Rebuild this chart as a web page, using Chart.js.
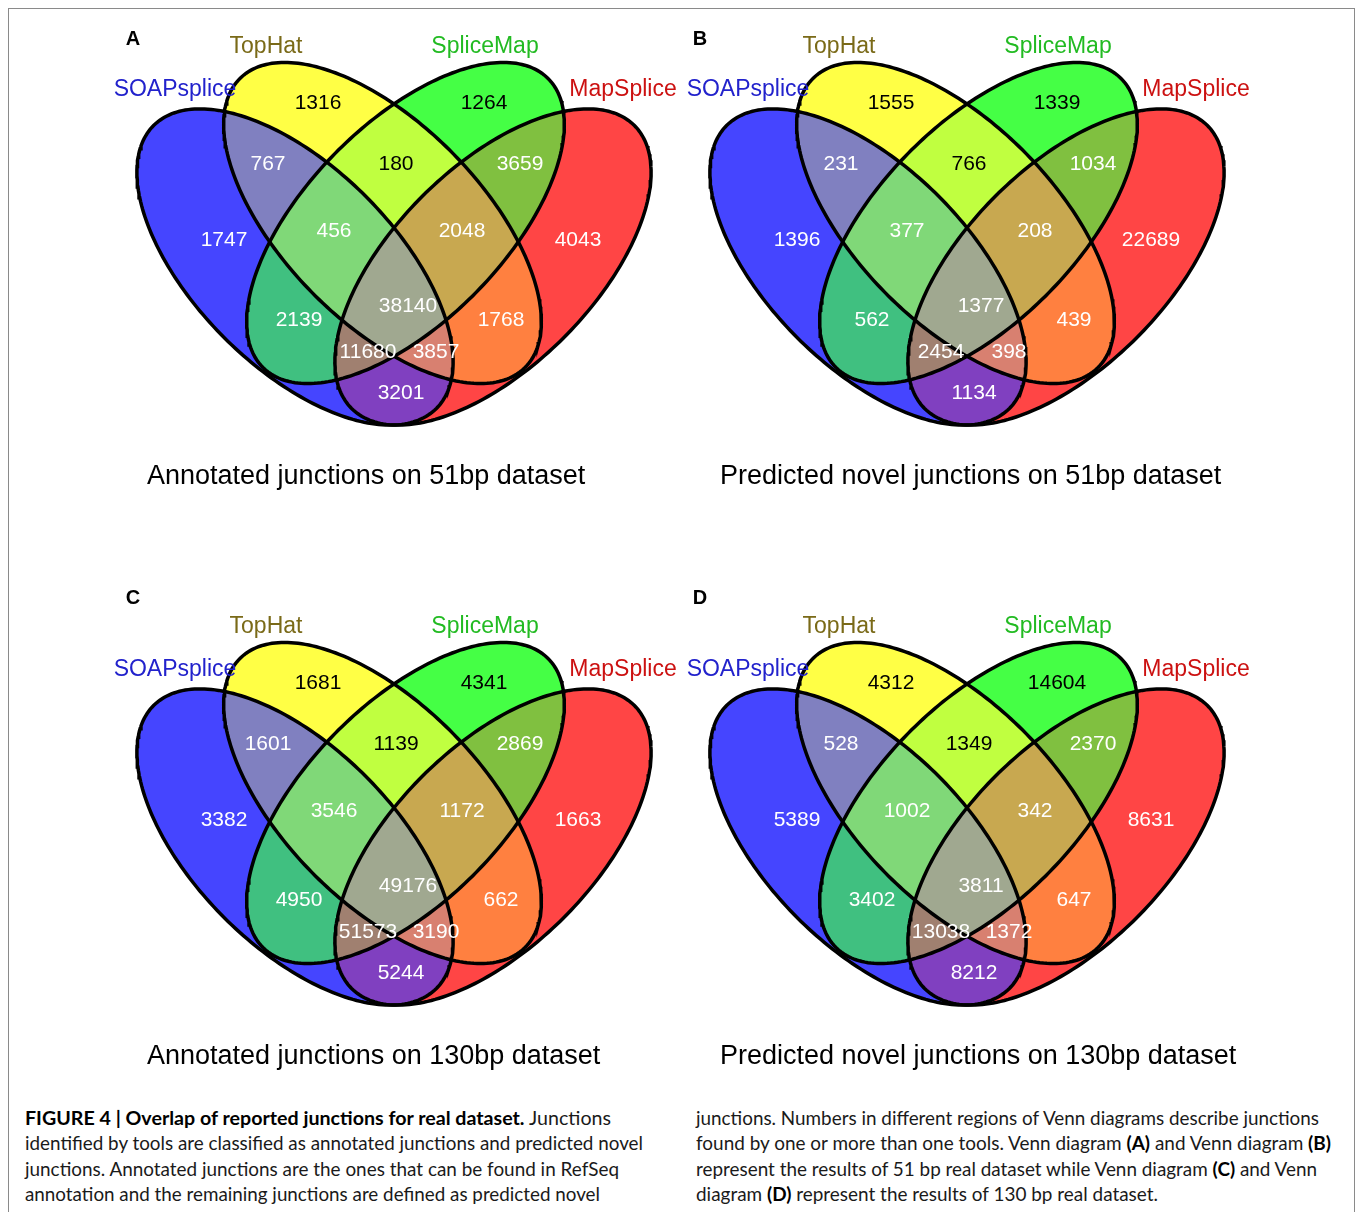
<!DOCTYPE html>
<html>
<head>
<meta charset="utf-8">
<script src="https://cdn.jsdelivr.net/npm/chart.js@4.4.0/dist/chart.umd.min.js"></script>
<style>
  body { margin: 0; background: #fff; font-family: "Liberation Sans", Arial, Helvetica, sans-serif; }
  #page { position: relative; width: 1358px; height: 1212px; overflow: hidden; }
  #frame { position: absolute; left: 8px; top: 8px; width: 1345px; height: 1240px; border: 1px solid #8a8a8a; }
  .panel { position: absolute; width: 580px; height: 520px; }
  .panel canvas { position: absolute; left: 0; top: 0; }
  .letter { position: absolute; font-weight: bold; font-size: 20px; transform: translate(-50%, -50%); }
  .setname { position: absolute; font-size: 23px; transform: translate(-50%, -50%); white-space: nowrap; }
  .title { position: absolute; font-size: 27px; transform: translateY(-50%); white-space: nowrap; color: #000; }
  .capline { position: absolute; white-space: nowrap; font-family: Lato, "Liberation Sans", Arial, sans-serif;
             font-weight: 400; font-size: 19px; color: #1a1a1a; transform-origin: 0 50%; line-height: 25px; }
  .capline b { font-weight: 700; color: #000; }
</style>
</head>
<body>
<div id="page">
  <div id="frame"></div>
</div>
<script>
// set names and panels
const setNames = ["SOAPsplice", "TopHat", "SpliceMap", "MapSplice"];
const setLabelColors = ["#2222cc", "#7a6a18", "#22bb22", "#cc1111"];
const panelLetters = ["A", "B", "C", "D"];
const panelTitles = [
  "Annotated junctions on 51bp dataset",
  "Predicted novel junctions on 51bp dataset",
  "Annotated junctions on 130bp dataset",
  "Predicted novel junctions on 130bp dataset"
];

// regions: which sets each one lies in (SOAPsplice, TopHat, SpliceMap, MapSplice)
const regionSets = [
  [1,0,0,0], [0,1,0,0], [0,0,1,0], [0,0,0,1],
  [1,1,0,0], [0,1,1,0], [0,0,1,1], [1,0,1,0], [0,1,0,1], [1,0,0,1],
  [1,1,1,0], [0,1,1,1], [1,0,1,1], [1,1,0,1],
  [1,1,1,1]
];

// junction counts, same region order as regionSets
const annotated51 = [1747, 1316, 1264, 4043, 767, 180, 3659, 2139, 1768, 3201, 456, 2048, 11680, 3857, 38140];
const novel51     = [1396, 1555, 1339, 22689, 231, 766, 1034, 562, 439, 1134, 377, 208, 2454, 398, 1377];
const annotated130 = [3382, 1681, 4341, 1663, 1601, 1139, 2869, 4950, 662, 5244, 3546, 1172, 51573, 3190, 49176];
const novel130     = [5389, 4312, 14604, 8631, 528, 1349, 2370, 3402, 647, 8212, 1002, 342, 13038, 1372, 3811];
const panelCounts = [annotated51, novel51, annotated130, novel130];

// look of the diagram
const regionColors = [
  "#4545ff", "#ffff45", "#45ff45", "#ff4545",
  "#8080c0", "#c0ff40", "#80c040", "#40c080", "#ff8040", "#8040c0",
  "#80d878", "#c8a850", "#a08070", "#d88070",
  "#a0a890"
];
const regionTextColors = [
  "#fff", "#000", "#000", "#fff",
  "#fff", "#000", "#fff", "#fff", "#fff", "#fff",
  "#fff", "#fff", "#fff", "#fff", "#fff"
];
const labelPos = [
  [130, 240], [224, 103], [390, 103], [484, 240],
  [174, 164], [302, 164], [426, 164], [205, 320], [407, 320], [307, 393],
  [240, 231], [368, 231], [274, 352], [342, 352],
  [314, 306]
];
const ellipses = [
  { cx: 201, cy: 267, a: 200, b: 100, rot: 45 },
  { cx: 288.5, cy: 223, a: 203, b: 99, rot: 45.5 },
  { cx: 311.5, cy: 223, a: 203, b: 99, rot: 134.5 },
  { cx: 399, cy: 267, a: 200, b: 100, rot: 135 }
];
const panelOrigins = [[94, 0], [667, 0], [94, 580], [667, 580]];
const letterPos = [[39, 38], [33, 38], [39, 17], [33, 17]];
const setLabelPos = [[81, 88], [172, 45], [391, 45], [529, 88]];

function ellipsePoints(e) {
  const pts = [];
  const r = e.rot * Math.PI / 180, c = Math.cos(r), s = Math.sin(r);
  for (let k = 0; k <= 240; k++) {
    const t = 2 * Math.PI * k / 240;
    pts.push({
      x: e.cx + e.a * Math.cos(t) * c - e.b * Math.sin(t) * s,
      y: e.cy + e.a * Math.cos(t) * s + e.b * Math.sin(t) * c
    });
  }
  return pts;
}

function pixelPath(chart, pts) {
  const xs = chart.scales.x, ys = chart.scales.y;
  const p = new Path2D();
  pts.forEach((pt, i) => {
    const px = xs.getPixelForValue(pt.x), py = ys.getPixelForValue(pt.y);
    if (i === 0) p.moveTo(px, py); else p.lineTo(px, py);
  });
  p.closePath();
  return p;
}

// fill each Venn region, then write its count on top
const vennPlugin = {
  id: "venn",
  beforeDatasetsDraw(chart) {
    const ctx = chart.ctx;
    const w = chart.width, h = chart.height;
    const paths = ellipses.map((e) => pixelPath(chart, ellipsePoints(e)));
    regionSets.forEach((sets, r) => {
      ctx.save();
      sets.forEach((inside, i) => {
        if (inside) {
          ctx.clip(paths[i]);
        } else {
          const outside = new Path2D();
          outside.rect(-10, -10, w + 20, h + 20);
          outside.addPath(paths[i]);
          ctx.clip(outside, "evenodd");
        }
      });
      ctx.fillStyle = regionColors[r];
      ctx.fillRect(0, 0, w, h);
      ctx.restore();
    });
  },
  afterDatasetsDraw(chart) {
    const ctx = chart.ctx;
    const counts = chart.options.plugins.venn.counts;
    ctx.save();
    ctx.font = '21px "Liberation Sans", Arial, sans-serif';
    ctx.textAlign = "center";
    ctx.textBaseline = "middle";
    counts.forEach((v, r) => {
      ctx.fillStyle = regionTextColors[r];
      ctx.fillText(String(v), chart.scales.x.getPixelForValue(labelPos[r][0]),
                   chart.scales.y.getPixelForValue(labelPos[r][1]));
    });
    ctx.restore();
  }
};

const page = document.getElementById("page");

panelCounts.forEach((counts, p) => {
  const panel = document.createElement("div");
  panel.className = "panel";
  panel.style.left = panelOrigins[p][0] + "px";
  panel.style.top = panelOrigins[p][1] + "px";
  const canvas = document.createElement("canvas");
  canvas.width = 580;
  canvas.height = 520;
  panel.appendChild(canvas);
  page.appendChild(panel);

  new Chart(canvas, {
    type: "scatter",
    data: {
      datasets: ellipses.map((e, i) => ({
        label: setNames[i],
        data: ellipsePoints(e),
        showLine: true,
        borderColor: "#000",
        borderWidth: 3.5,
        pointRadius: 0,
        fill: false
      }))
    },
    options: {
      responsive: false,
      animation: false,
      layout: { padding: 0 },
      scales: {
        x: { type: "linear", min: 0, max: 580, display: false },
        y: { type: "linear", min: 0, max: 520, reverse: true, display: false }
      },
      plugins: {
        legend: { display: false },
        tooltip: { enabled: false },
        venn: { counts: counts }
      }
    },
    plugins: [vennPlugin]
  });

  const letter = document.createElement("div");
  letter.className = "letter";
  letter.textContent = panelLetters[p];
  letter.style.left = letterPos[p][0] + "px";
  letter.style.top = letterPos[p][1] + "px";
  panel.appendChild(letter);

  setNames.forEach((name, i) => {
    const d = document.createElement("div");
    d.className = "setname";
    d.textContent = name;
    d.style.color = setLabelColors[i];
    d.style.left = setLabelPos[i][0] + "px";
    d.style.top = setLabelPos[i][1] + "px";
    panel.appendChild(d);
  });

  const title = document.createElement("div");
  title.className = "title";
  title.textContent = panelTitles[p];
  title.style.left = "53px";
  title.style.top = "475px";
  panel.appendChild(title);
});

// figure caption, two columns
const captionLines = [
  [25, 1117, 586, "<b>FIGURE 4 | Overlap of reported junctions for real dataset.</b> Junctions"],
  [25, 1142, 618, "identified by tools are classified as annotated junctions and predicted novel"],
  [25, 1168, 594, "junctions. Annotated junctions are the ones that can be found in RefSeq"],
  [25, 1193, 575, "annotation and the remaining junctions are defined as predicted novel"],
  [696, 1117, 623, "junctions. Numbers in different regions of Venn diagrams describe junctions"],
  [696, 1142, 635, "found by one or more than one tools. Venn diagram <b>(A)</b> and Venn diagram <b>(B)</b>"],
  [696, 1168, 621, "represent the results of 51 bp real dataset while Venn diagram <b>(C)</b> and Venn"],
  [696, 1193, 462, "diagram <b>(D)</b> represent the results of 130 bp real dataset."]
];
captionLines.forEach(([x, y, w, html]) => {
  const d = document.createElement("div");
  d.className = "capline";
  d.innerHTML = html;
  d.style.left = x + "px";
  d.style.top = (y - 12.5) + "px";
  page.appendChild(d);
  const natural = d.getBoundingClientRect().width;
  d.style.transform = "scaleX(" + (w / natural) + ")";
});
</script>
</body>
</html>
